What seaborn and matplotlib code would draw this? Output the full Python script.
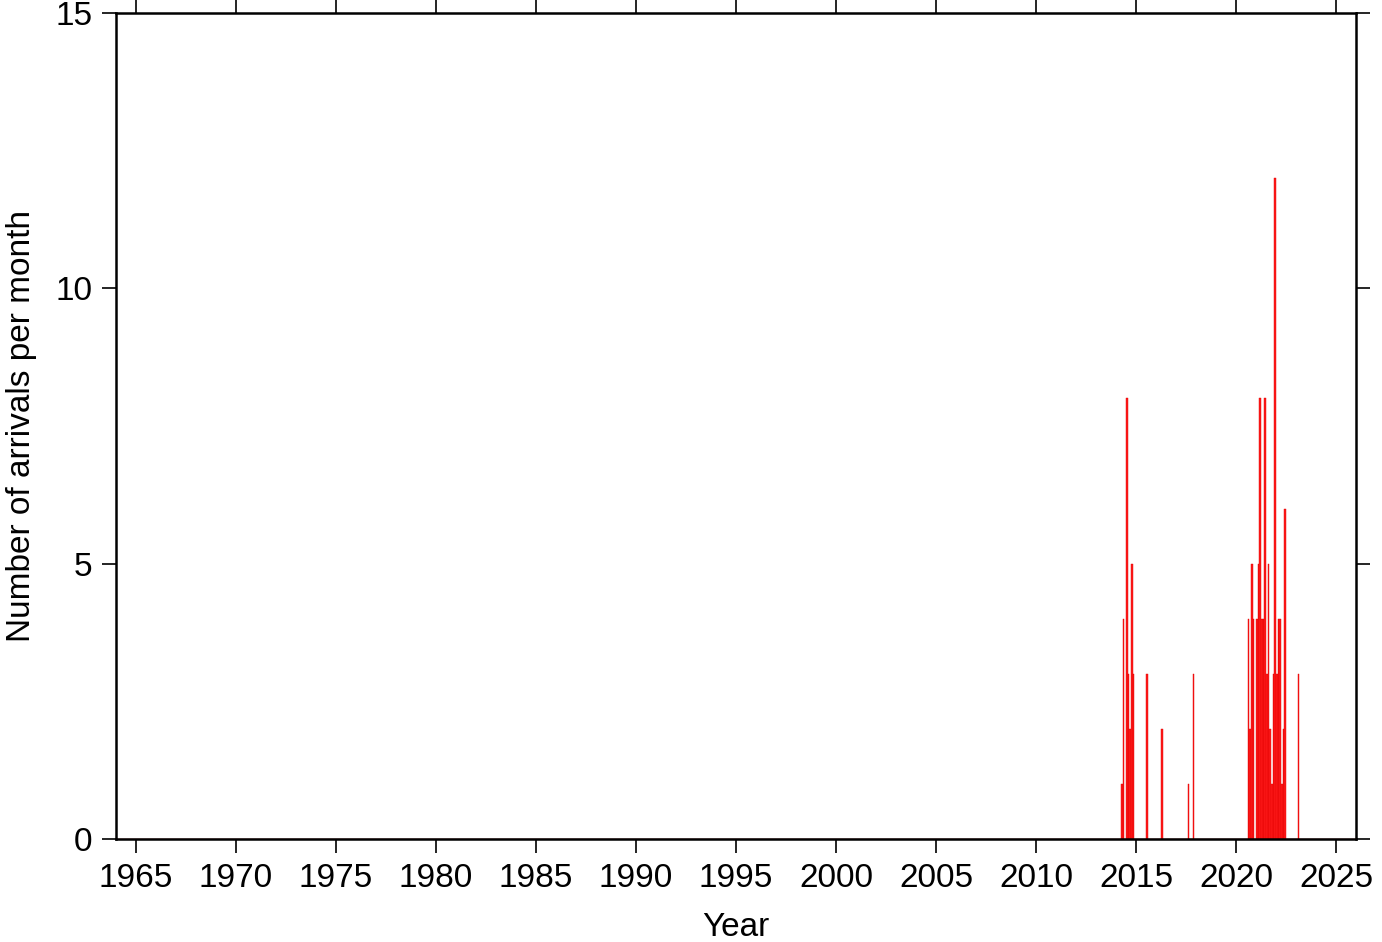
import numpy as np
import pandas as pd
import matplotlib
matplotlib.use("Agg")
import matplotlib.pyplot as plt
import seaborn as sns

# Monthly arrival counts (non-zero months only)
months = ["2014-04", "2014-05", "2014-07", "2014-08", "2014-09", "2014-10", "2014-11",
          "2015-07", "2016-04", "2017-08", "2017-11",
          "2020-08", "2020-09", "2020-10", "2020-11",
          "2021-01", "2021-02", "2021-03", "2021-04", "2021-05", "2021-06",
          "2021-07", "2021-08", "2021-09", "2021-10", "2021-11", "2021-12",
          "2022-01", "2022-02", "2022-03", "2022-04", "2022-05", "2022-06",
          "2023-02"]
counts = [1, 4, 8, 3, 2, 5, 3,
          3, 2, 1, 3,
          4, 2, 5, 4,
          4, 5, 8, 4, 4, 8,
          3, 5, 2, 1, 3, 12,
          3, 4, 4, 1, 2, 6,
          3]

x_ticks = list(range(1965, 2026, 5))
y_ticks = [0, 5, 10, 15]
x_label = "Year"
y_label = "Number of arrivals per month"

sns.set_style("ticks")
plt.rcParams['font.family'] = ['Liberation Sans', 'DejaVu Sans']
plt.rcParams['text.color'] = 'black'
plt.rcParams['axes.labelcolor'] = 'black'
plt.rcParams['xtick.color'] = 'black'
plt.rcParams['ytick.color'] = 'black'

yr = np.array([int(m[:4]) for m in months])
mo = np.array([int(m[5:7]) for m in months])
t = yr + (mo - 1) / 12.0 + 1 / 24.0
arrivals = pd.DataFrame({"t": np.repeat(t, counts)})

fig = plt.figure(figsize=(13.82, 9.42), dpi=100)
ax = fig.add_axes([116 / 1382, 1 - 839 / 942, (1356 - 116) / 1382, (839 - 13) / 942])

sns.histplot(data=arrivals, x="t", binwidth=1 / 12, binrange=(1964, 2026), ax=ax,
             color="#ff1a1a", edgecolor="#e00000", linewidth=0.3, alpha=1.0)

ax.set_xlim(1964, 2026)
ax.set_ylim(0, 15)
ax.set_xticks(x_ticks)
ax.set_yticks(y_ticks)
ax.set_xlabel(x_label, fontsize=24, labelpad=13)
ax.set_ylabel(y_label, fontsize=24, labelpad=13)
ax.tick_params(axis="both", which="both", direction="out", length=10, width=1.2,
               labelsize=24, top=True, right=True, labeltop=False, labelright=False,
               pad=7, colors="black")
for s in ax.spines.values():
    s.set_visible(True)
    s.set_linewidth(1.8)
    s.set_color("black")
ax.grid(False)

fig.savefig("out.png", dpi=100)
